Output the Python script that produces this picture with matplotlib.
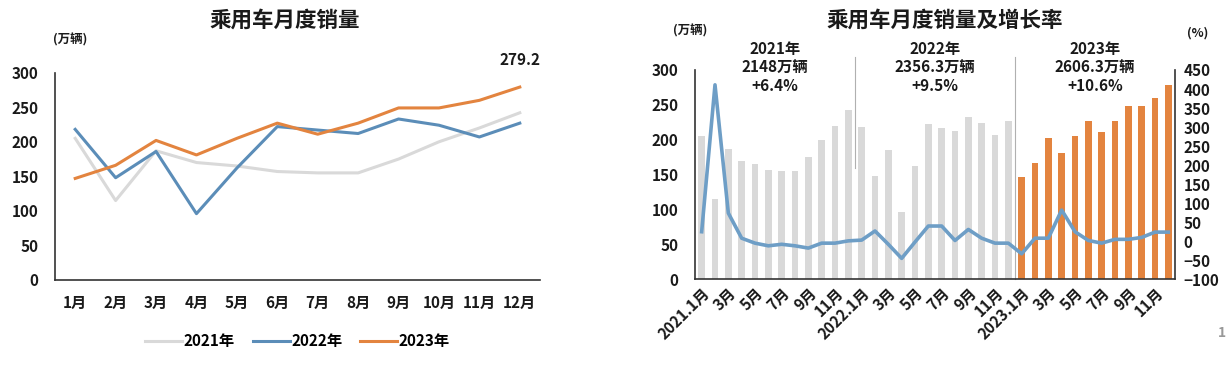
import matplotlib
matplotlib.use("Agg")
import matplotlib.pyplot as plt
import numpy as np

plt.rcParams['font.family'] = ['Noto Sans CJK SC', 'DejaVu Sans']
plt.rcParams['font.weight'] = 'bold'

# ---------------- data ----------------
months = ['1月', '2月', '3月', '4月', '5月', '6月', '7月', '8月', '9月', '10月', '11月', '12月']
sales_2021 = [205, 115, 187, 170, 165, 157, 155, 155, 175, 200, 220, 242]
sales_2022 = [218, 148, 186, 96, 162, 222, 217, 212, 233, 224, 207, 227]
sales_2023 = [147, 166, 202, 181, 205, 227, 211, 227, 249, 249, 260, 279.2]
growth_2021 = [25, 411, 74, 8, -5, -12, -8, -12, -18, -5, -5, 1]
growth_2022 = [3, 27, -8, -45, -2, 40, 40, 2, 31, 8, -5, -5]
growth_2023 = [-33, 8, 8, 82, 25, 2, -5, 5, 5, 10, 24, 24]
year_labels = ['2021年', '2022年', '2023年']
year_notes = ['2021年\n2148万辆\n+6.4%', '2022年\n2356.3万辆\n+9.5%', '2023年\n2606.3万辆\n+10.6%']
right_xticklabels = ['2021.1月', '3月', '5月', '7月', '9月', '11月',
                     '2022.1月', '3月', '5月', '7月', '9月', '11月',
                     '2023.1月', '3月', '5月', '7月', '9月', '11月']

C_GRAY = '#d9d9d9'
C_BLUE = '#5b8db8'
C_ORANGE = '#e3843f'
C_LINE = '#6e9ec6'
C_TEXT = '#1a1a1a'
FS = 11

W, H = 1229, 366
fig = plt.figure(figsize=(W / 100, H / 100), dpi=100)

def ax_rect(x0, y0, x1, y1):
    return [x0 / W, 1 - y1 / H, (x1 - x0) / W, (y1 - y0) / H]

# ---------------- left chart ----------------
ax1 = fig.add_axes(ax_rect(55, 72.7, 540, 280))
x = np.arange(len(months))
l1, = ax1.plot(x, sales_2021, color=C_GRAY, lw=2.2, label=year_labels[0])
l2, = ax1.plot(x, sales_2022, color=C_BLUE, lw=2.2, label=year_labels[1])
l3, = ax1.plot(x, sales_2023, color=C_ORANGE, lw=2.2, label=year_labels[2])
ax1.set_xlim(-0.5, 11.5)
ax1.set_ylim(0, 300)
ax1.set_yticks(range(0, 301, 50))
ax1.set_xticks(x)
ax1.set_xticklabels(months)
for s in ['top', 'right']:
    ax1.spines[s].set_visible(False)
for s in ['left', 'bottom']:
    ax1.spines[s].set_color('#333333')
    ax1.spines[s].set_linewidth(1.2)
ax1.tick_params(length=0, labelsize=FS, colors=C_TEXT)
ax1.tick_params(axis='x', pad=11)
ax1.tick_params(axis='y', pad=12)
ax1.annotate(f'{sales_2023[-1]:.1f}', xy=(11, sales_2023[-1]), xytext=(0, 14),
             textcoords='offset points', ha='center', va='bottom',
             fontsize=FS, fontweight='bold', color=C_TEXT)
fig.text(285 / W, 1 - 20 / H, '乘用车月度销量', ha='center', va='center',
         fontsize=15.5, fontweight='bold', color=C_TEXT)
fig.text(70 / W, 1 - 40 / H, '(万辆)', ha='center', va='center',
         fontsize=9, fontweight='bold', color=C_TEXT)
ax1.legend(handles=[l1, l2, l3], loc='upper center', bbox_to_anchor=(0.5, -0.19),
           ncol=3, frameon=False, fontsize=FS, handlelength=2.4, handletextpad=0.1,
           columnspacing=1.2)

# ---------------- right chart ----------------
ax2 = fig.add_axes(ax_rect(695, 70, 1175, 279.3))
all_sales = sales_2021 + sales_2022 + sales_2023
all_growth = growth_2021 + growth_2022 + growth_2023
n = len(all_sales)
xx = np.arange(n)
bar_colors = [C_GRAY] * 24 + [C_ORANGE] * 12
ax2.bar(xx, all_sales, width=0.5, color=bar_colors, zorder=1)
ax2.set_xlim(-0.5, n - 0.5)
ax2.set_ylim(0, 300)
ax2.set_yticks(range(0, 301, 50))
ax2.set_xticks(xx[::2])
ax2.set_xticklabels(right_xticklabels, rotation=45, ha='right', rotation_mode='anchor')
ax2.tick_params(length=0, labelsize=FS, colors=C_TEXT)
ax2.tick_params(axis='y', pad=12)
ax2.tick_params(axis='x', pad=4)
ax2.spines['top'].set_visible(False)
ax2.spines['right'].set_visible(False)
for s in ['left', 'bottom']:
    ax2.spines[s].set_color('#333333')
    ax2.spines[s].set_linewidth(1.2)

ax3 = ax2.twinx()
ax3.plot(xx, all_growth, color=C_LINE, lw=2.6, zorder=3)
ax3.set_ylim(-100, 450)
ax3.set_yticks(range(-100, 451, 50))
ax3.tick_params(length=0, labelsize=FS, colors=C_TEXT, pad=6)
for s in ['top', 'left', 'bottom']:
    ax3.spines[s].set_visible(False)
ax3.spines['right'].set_color('#333333')
ax3.spines['right'].set_linewidth(1.2)
for lab in ax3.get_yticklabels():
    lab.set_fontweight('bold')

# year separators
ax2.plot([11.5, 11.5], [160, 318], color='#b0b0b0', lw=0.8, clip_on=False, zorder=2)
ax2.plot([23.5, 23.5], [0, 318], color='#b0b0b0', lw=0.8, clip_on=False, zorder=2)

for cx, note in zip([5.5, 17.5, 29.5], year_notes):
    ax2.text(cx, 342, note, ha='center', va='top', fontsize=FS,
             fontweight='bold', color=C_TEXT, linespacing=1.2)

fig.text(945 / W, 1 - 20 / H, '乘用车月度销量及增长率', ha='center', va='center',
         fontsize=15.5, fontweight='bold', color=C_TEXT)
fig.text(690 / W, 1 - 31 / H, '(万辆)', ha='center', va='center',
         fontsize=9, fontweight='bold', color=C_TEXT)
fig.text(1198 / W, 1 - 33 / H, '(%)', ha='center', va='center',
         fontsize=9, fontweight='bold', color=C_TEXT)
fig.text(1222 / W, 1 - 333 / H, '1', ha='center', va='center',
         fontsize=10, color='#999999')

for lab in ax1.get_xticklabels() + ax1.get_yticklabels() + ax2.get_xticklabels() + ax2.get_yticklabels():
    lab.set_fontweight('bold')

fig.savefig('out.png', dpi=100, facecolor='white')
